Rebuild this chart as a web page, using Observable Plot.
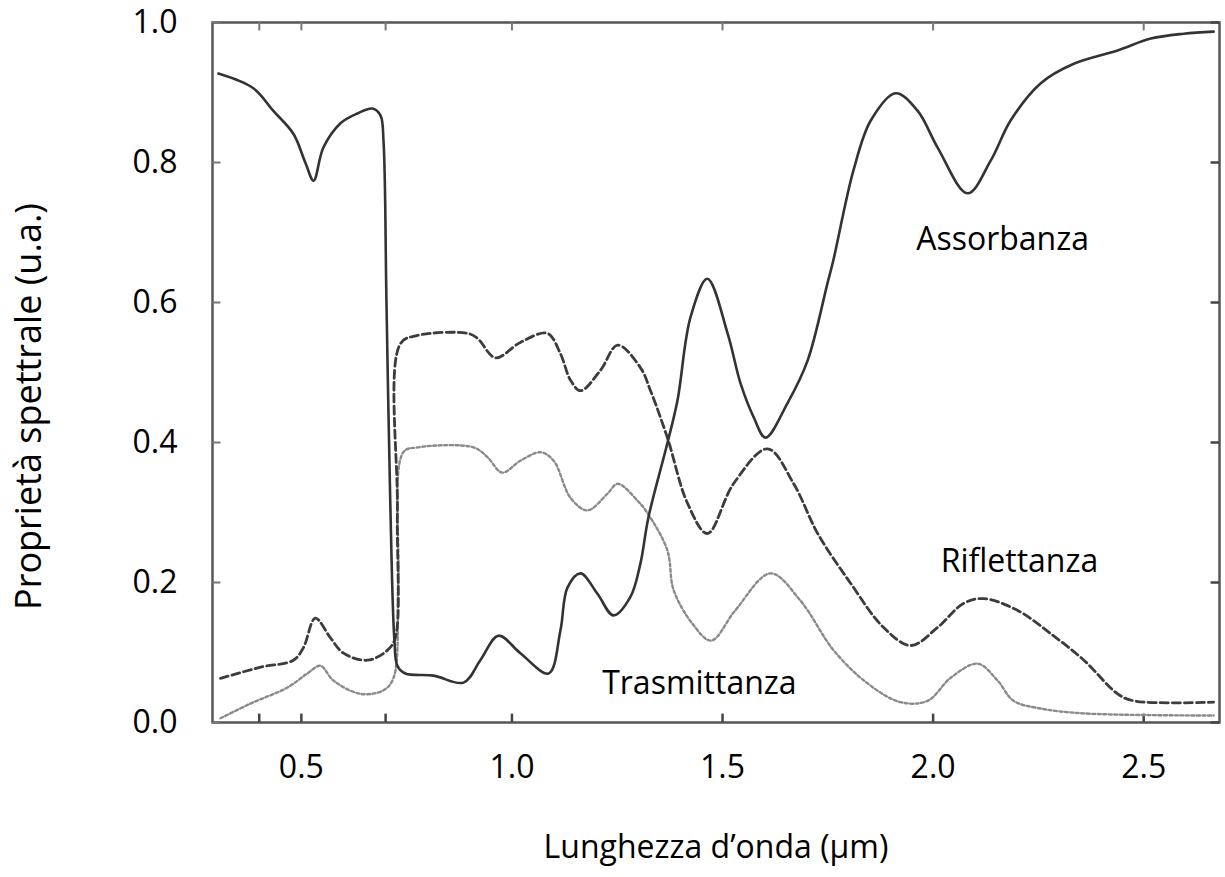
<!DOCTYPE html>
<html><head><meta charset="utf-8">
<script src="https://cdn.jsdelivr.net/npm/d3@7"></script>
<script src="https://cdn.jsdelivr.net/npm/@observablehq/plot@0.6"></script>
<style>body{margin:0;background:#fff}</style>
</head><body><div id="chart"></div>
<script>
// Assorbanza (solid)
const absWl = [0.303,0.386,0.433,0.481,0.510,0.529,0.552,0.593,0.633,0.669,0.688,0.695,0.702,0.711,0.721,0.728,0.747,0.814,0.885,0.925,0.968,1.020,1.087,1.115,1.132,1.163,1.203,1.241,1.281,1.305,1.324,1.369,1.393,1.424,1.464,1.512,1.543,1.574,1.602,1.654,1.702,1.749,1.763,1.811,1.852,1.911,1.963,2.011,2.082,2.137,2.184,2.255,2.334,2.438,2.517,2.595,2.666];
const absVal = [0.927,0.906,0.874,0.841,0.799,0.774,0.821,0.856,0.870,0.877,0.867,0.831,0.603,0.317,0.117,0.081,0.070,0.067,0.057,0.089,0.124,0.099,0.070,0.131,0.193,0.213,0.184,0.153,0.179,0.227,0.293,0.399,0.460,0.579,0.634,0.556,0.484,0.436,0.407,0.456,0.517,0.627,0.660,0.789,0.860,0.899,0.874,0.821,0.756,0.803,0.860,0.913,0.941,0.960,0.977,0.984,0.987];
// Riflettanza (dashed)
const refWl = [0.308,0.403,0.481,0.505,0.533,0.569,0.600,0.657,0.704,0.723,0.728,0.735,0.776,0.894,0.918,0.961,1.020,1.084,1.115,1.139,1.163,1.210,1.251,1.305,1.329,1.369,1.417,1.464,1.526,1.607,1.669,1.726,1.804,1.882,1.947,2.011,2.072,2.120,2.201,2.279,2.358,2.438,2.476,2.666];
const refVal = [0.063,0.079,0.089,0.107,0.149,0.121,0.099,0.089,0.103,0.121,0.300,0.541,0.553,0.556,0.549,0.521,0.543,0.556,0.527,0.489,0.474,0.503,0.539,0.507,0.474,0.407,0.313,0.270,0.341,0.391,0.341,0.270,0.199,0.136,0.110,0.136,0.170,0.177,0.160,0.127,0.089,0.041,0.031,0.029];
// Trasmittanza (dotted)
const traWl = [0.308,0.379,0.467,0.514,0.545,0.576,0.640,0.695,0.719,0.730,0.742,0.776,0.909,0.942,0.977,1.020,1.068,1.099,1.139,1.179,1.227,1.251,1.298,1.322,1.369,1.384,1.430,1.473,1.530,1.614,1.685,1.764,1.844,1.923,1.987,2.042,2.106,2.153,2.191,2.255,2.358,2.666];
const traVal = [0.006,0.027,0.050,0.070,0.081,0.060,0.041,0.046,0.064,0.200,0.386,0.393,0.393,0.379,0.357,0.374,0.386,0.374,0.321,0.303,0.327,0.341,0.317,0.299,0.246,0.189,0.140,0.117,0.160,0.213,0.174,0.103,0.056,0.029,0.031,0.064,0.084,0.060,0.031,0.020,0.013,0.010];

const xTickLabels = [0.5, 1.0, 1.5, 2.0, 2.5];
const xTickMarks = [0.4, 0.5, 0.7, 1.0, 1.5, 2.0, 2.5];
const yTickLabels = [0.0, 0.2, 0.4, 0.6, 0.8, 1.0];
const curveNames = ["Assorbanza", "Riflettanza", "Trasmittanza"];
const nameWl = [2.165, 2.205, 1.445];
const nameVal = [0.689, 0.229, 0.056];
const xTitle = "Lunghezza d’onda (µm)";
const yTitle = "Proprietà spettrale (u.a.)";

const zip = (xs, ys) => xs.map((x, i) => ({x, y: ys[i]}));
const absData = zip(absWl, absVal);
const refData = zip(refWl, refVal);
const traData = zip(traWl, traVal);
const labels = curveNames.map((t, i) => ({t, x: nameWl[i], y: nameVal[i]}));

const xMin = 0.289, xMax = 2.68;
const tickLenY = 0.012, tickLenX = 0.02;

const chart = Plot.plot({
  width: 1225, height: 877,
  marginLeft: 212, marginRight: 6, marginTop: 22, marginBottom: 155,
  style: {fontFamily: "'Open Sans', sans-serif", fontSize: "32px", color: "#000", background: "#fff"},
  x: {domain: [xMin, xMax], ticks: xTickLabels, tickFormat: ".1f", tickSize: 0, tickPadding: 33,
      label: xTitle, labelAnchor: "center", labelOffset: 135, labelArrow: "none"},
  y: {domain: [0, 1], ticks: yTickLabels, tickFormat: ".1f", tickSize: 0, tickPadding: 35,
      label: yTitle, labelAnchor: "center", labelOffset: 197, labelArrow: "none"},
  marks: [
    Plot.frame({stroke: "#555", strokeWidth: 2.5}),
    Plot.ruleX(xTickMarks, {x: d => d, y1: 0, y2: tickLenY, stroke: "#444", strokeWidth: 2.5}),
    Plot.ruleX(xTickMarks, {x: d => d, y1: 1, y2: 1 - tickLenY, stroke: "#777", strokeWidth: 2}),
    Plot.ruleY(yTickLabels, {y: d => d, x1: xMin, x2: xMin + tickLenX, stroke: "#777", strokeWidth: 2}),
    Plot.ruleY(yTickLabels, {y: d => d, x1: xMax, x2: xMax - tickLenX, stroke: "#444", strokeWidth: 2.5}),
    Plot.line(traData, {x: "x", y: "y", curve: "catmull-rom", stroke: "#8a8a8a", strokeWidth: 2.4, strokeDasharray: "3,2.5"}),
    Plot.line(refData, {x: "x", y: "y", curve: "catmull-rom", stroke: "#3c3c3c", strokeWidth: 2.8, strokeDasharray: "8,4"}),
    Plot.line(absData, {x: "x", y: "y", curve: "catmull-rom", stroke: "#333", strokeWidth: 2.6}),
    Plot.text(labels, {x: "x", y: "y", text: "t", fontSize: 32, fill: "#000"})
  ]
});
d3.select(chart).selectAll("text").filter(function() { return this.textContent === yTitle; })
  .style("font-size", "36px")
  .attr("dx", -34);
document.getElementById("chart").appendChild(chart);
</script>
</body></html>
